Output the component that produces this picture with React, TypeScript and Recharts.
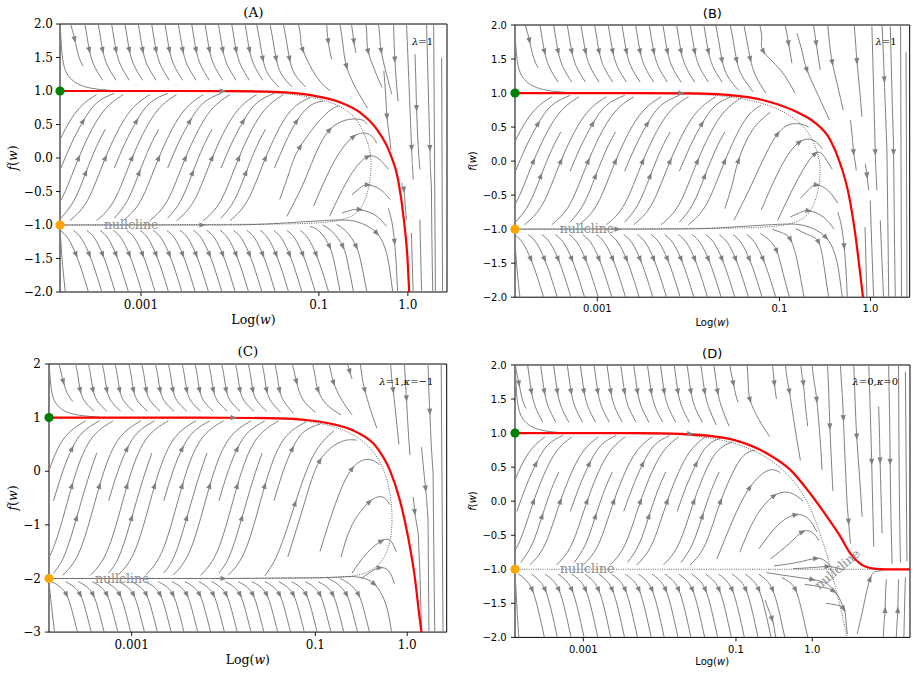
import React from 'react';
import { ComposedChart, Line, XAxis, YAxis, ReferenceArea, ReferenceDot } from 'recharts';

type Pt = [number, number];

const GRAY = '#808080';
const RED = '#ff0000';
const SERIF = '"DejaVu Serif", serif';
const SANS = '"DejaVu Sans", sans-serif';

// x is log10(w); tick labels are the w values
const xTickValues = [-3, -1, 0];
const xTickLabels = ['0.001', '0.1', '1.0'];
const yTicksHalf = [-2, -1.5, -1, -0.5, 0, 0.5, 1, 1.5, 2];
const yTicksUnit = [-3, -2, -1, 0, 1, 2];

// ---------- small-w part of the flow shared by panels A and B ----------
const topLeftAB: Pt[][] = [
  [[-3.79, 2], [-3.77, 1.9], [-3.745, 1.77], [-3.7, 1.52], [-3.65, 1.37]],
  [[-3.63, 2], [-3.605, 1.8], [-3.58, 1.61], [-3.53, 1.39], [-3.43, 1.16]],
  [[-3.48, 2], [-3.455, 1.8], [-3.43, 1.61], [-3.38, 1.39], [-3.28, 1.16]],
  [[-3.33, 2], [-3.305, 1.8], [-3.28, 1.61], [-3.23, 1.39], [-3.13, 1.16]],
  [[-3.18, 2], [-3.155, 1.8], [-3.13, 1.61], [-3.08, 1.39], [-2.98, 1.16]],
  [[-3.03, 2], [-3.005, 1.8], [-2.98, 1.61], [-2.93, 1.39], [-2.83, 1.16]],
  [[-2.88, 2], [-2.855, 1.8], [-2.83, 1.61], [-2.78, 1.39], [-2.68, 1.16]],
  [[-2.73, 2], [-2.705, 1.8], [-2.68, 1.61], [-2.63, 1.39], [-2.53, 1.16]],
  [[-2.58, 2], [-2.555, 1.8], [-2.53, 1.61], [-2.48, 1.39], [-2.38, 1.16]],
  [[-2.43, 2], [-2.405, 1.8], [-2.38, 1.61], [-2.33, 1.39], [-2.23, 1.16]],
  [[-2.28, 2], [-2.255, 1.8], [-2.23, 1.61], [-2.18, 1.39], [-2.08, 1.16]],
  [[-2.13, 2], [-2.105, 1.8], [-2.08, 1.61], [-2.03, 1.39], [-1.93, 1.16]],
  [[-1.98, 2], [-1.955, 1.8], [-1.93, 1.61], [-1.88, 1.39], [-1.78, 1.16]],
  [[-1.83, 2], [-1.805, 1.8], [-1.78, 1.61], [-1.73, 1.39], [-1.63, 1.16]],
];

const midLeftAB: Pt[][] = [
  [[-4.4, -0.935], [-4.2, -0.63], [-4.0, 0], [-3.75, 0.65], [-3.5, 0.945]],
  [[-3.9, -0.15], [-3.78, 0.22], [-3.65, 0.55], [-3.5, 0.82], [-3.3, 0.965]],
  [[-4.1, -0.935], [-3.9, -0.63], [-3.7, 0], [-3.45, 0.65], [-3.2, 0.945]],
  [[-3.9, -0.9], [-3.75, -0.63], [-3.62, -0.22], [-3.5, 0.17], [-3.4, 0.43]],
  [[-3.8, -0.935], [-3.6, -0.63], [-3.4, 0], [-3.15, 0.65], [-2.9, 0.945]],
  [[-3.3, -0.15], [-3.18, 0.22], [-3.05, 0.55], [-2.9, 0.82], [-2.7, 0.965]],
  [[-3.5, -0.935], [-3.3, -0.63], [-3.1, 0], [-2.85, 0.65], [-2.6, 0.945]],
  [[-3.3, -0.9], [-3.15, -0.63], [-3.02, -0.22], [-2.9, 0.17], [-2.8, 0.43]],
  [[-3.2, -0.935], [-3.0, -0.63], [-2.8, 0], [-2.55, 0.65], [-2.3, 0.945]],
  [[-2.7, -0.15], [-2.58, 0.22], [-2.45, 0.55], [-2.3, 0.82], [-2.1, 0.965]],
  [[-2.9, -0.935], [-2.7, -0.63], [-2.5, 0], [-2.25, 0.65], [-2.0, 0.945]],
  [[-2.7, -0.9], [-2.55, -0.63], [-2.42, -0.22], [-2.3, 0.17], [-2.2, 0.43]],
  [[-2.6, -0.935], [-2.4, -0.63], [-2.2, 0], [-1.95, 0.65], [-1.7, 0.945]],
  [[-2.1, -0.15], [-1.98, 0.22], [-1.85, 0.55], [-1.7, 0.82], [-1.5, 0.965]],
  [[-2.3, -0.935], [-2.1, -0.63], [-1.9, 0], [-1.65, 0.65], [-1.4, 0.945]],
  [[-2.1, -0.9], [-1.95, -0.63], [-1.82, -0.22], [-1.7, 0.17], [-1.6, 0.43]],
];

const botLeftAB: Pt[][] = [
  [[-3.91, -1.08], [-3.82, -1.2], [-3.73, -1.44], [-3.66, -1.7], [-3.59, -2]],
  [[-3.76, -1.08], [-3.67, -1.2], [-3.58, -1.44], [-3.51, -1.7], [-3.44, -2]],
  [[-3.61, -1.08], [-3.52, -1.2], [-3.43, -1.44], [-3.36, -1.7], [-3.29, -2]],
  [[-3.46, -1.08], [-3.37, -1.2], [-3.28, -1.44], [-3.21, -1.7], [-3.14, -2]],
  [[-3.31, -1.08], [-3.22, -1.2], [-3.13, -1.44], [-3.06, -1.7], [-2.99, -2]],
  [[-3.16, -1.08], [-3.07, -1.2], [-2.98, -1.44], [-2.91, -1.7], [-2.84, -2]],
  [[-3.01, -1.08], [-2.92, -1.2], [-2.83, -1.44], [-2.76, -1.7], [-2.69, -2]],
  [[-2.86, -1.08], [-2.77, -1.2], [-2.68, -1.44], [-2.61, -1.7], [-2.54, -2]],
  [[-2.71, -1.08], [-2.62, -1.2], [-2.53, -1.44], [-2.46, -1.7], [-2.39, -2]],
  [[-2.56, -1.08], [-2.47, -1.2], [-2.38, -1.44], [-2.31, -1.7], [-2.24, -2]],
  [[-2.41, -1.08], [-2.32, -1.2], [-2.23, -1.44], [-2.16, -1.7], [-2.09, -2]],
  [[-2.26, -1.08], [-2.17, -1.2], [-2.08, -1.44], [-2.01, -1.7], [-1.94, -2]],
  [[-2.11, -1.08], [-2.02, -1.2], [-1.93, -1.44], [-1.86, -1.7], [-1.79, -2]],
  [[-1.96, -1.08], [-1.87, -1.2], [-1.78, -1.44], [-1.71, -1.7], [-1.64, -2]],
];

const plainLeftAB: Pt[][] = [
  [[-3.905, 1.92], [-3.89, 1.6], [-3.86, 1.35], [-3.8, 1.2], [-3.7, 1.1], [-3.55, 1.04], [-3.35, 1.01]],
  [[-3.905, -1.15], [-3.89, -1.45], [-3.87, -1.75], [-3.85, -2]],
];

// ---------- panel A (lambda = 1) ----------
const redA: Pt[] = [
  [-3.91, 1], [-2.6, 1], [-2.0, 0.998], [-1.44, 0.983], [-1.06, 0.93], [-0.76, 0.83], [-0.54, 0.68],
  [-0.35, 0.43], [-0.2, 0.07], [-0.11, -0.32], [-0.045, -0.92], [-0.003, -1.52], [0.015, -2.0],
];
const nullA: Pt[] = [
  [-3.91, 1], [-2.0, 0.997], [-1.44, 0.975], [-1.06, 0.91], [-0.76, 0.79], [-0.58, 0.6], [-0.5, 0.4],
  [-0.43, 0.16], [-0.405, -0.1], [-0.43, -0.4], [-0.48, -0.65], [-0.58, -0.86], [-0.8, -0.95],
  [-1.07, -0.975], [-1.44, -0.99], [-3.91, -1],
];
const topRightA: Pt[][] = [
  [[-1.7, 2], [-1.665, 1.75], [-1.63, 1.48], [-1.57, 1.25], [-1.45, 1.06]],
  [[-1.55, 2], [-1.515, 1.75], [-1.48, 1.48], [-1.42, 1.25], [-1.3, 1.06]],
  [[-1.4, 2], [-1.365, 1.75], [-1.33, 1.48], [-1.27, 1.25], [-1.15, 1.06]],
  [[-1.23, 2], [-1.205, 1.8], [-1.18, 1.61], [-1.03, 1.22], [-0.87, 1.0]],
  [[-0.913, 2], [-0.895, 1.74], [-0.857, 1.47]],
  [[-0.764, 2], [-0.73, 1.7], [-0.689, 1.367], [-0.576, 1.02], [-0.45, 0.74]],
  [[-0.633, 2], [-0.607, 1.74], [-0.584, 1.57]],
  [[-0.47, 2], [-0.46, 1.8], [-0.446, 1.59], [-0.37, 1.3], [-0.29, 1.05]],
  [[-0.33, 2], [-0.315, 1.8], [-0.3, 1.6], [-0.24, 1.25], [-0.18, 0.95]],
  [[-0.27, 1.3], [-0.25, 0.95], [-0.235, 0.62], [-0.21, 0.35], [-0.19, 0.12]],
  [[-0.16, 2], [-0.155, 1.75], [-0.146, 1.47], [-0.13, 1.15], [-0.11, 0.85]],
  [[0.08, 1.55], [0.09, 1.15], [0.098, 0.745], [0.115, 0.2], [0.135, -0.17]],
  [[-0.015, 2], [0.01, 1.2], [0.042, 0.15], [0.052, -0.1], [0.06, -0.32]],
  [[0.21, 2], [0.23, 1.0], [0.247, 0.15], [0.255, -0.2], [0.265, -0.43]],
  [[-0.07, -0.37], [-0.06, -0.42], [-0.045, -0.47], [-0.03, -0.7], [-0.015, -0.92]],
];
const midRightA: Pt[][] = [
  [[-3.91, 1], [-2.9, 1], [-2.08, 1], [-1.8, 0.999], [-1.5, 0.99]],
  [[-3.91, -1], [-3.0, -1], [-2.31, -1], [-1.8, -0.995], [-1.44, -0.975]],
  [[-1.44, -0.975], [-0.88, -0.93], [-0.58, -0.95], [-0.35, -1.12], [-0.24, -1.42], [-0.2, -1.7], [-0.17, -2.0]],
  [[-2.0, -0.935], [-1.8, -0.63], [-1.6, 0], [-1.35, 0.65], [-1.1, 0.9]],
  [[-1.5, -0.15], [-1.38, 0.22], [-1.25, 0.55], [-1.1, 0.78], [-0.95, 0.85]],
  [[-1.44, -0.62], [-1.33, -0.2], [-1.21, 0.17], [-0.95, 0.62], [-0.78, 0.78]],
  [[-1.36, -0.87], [-1.14, -0.27], [-0.88, 0.42], [-0.56, 0.58], [-0.46, 0.5]],
  [[-1.06, -0.72], [-0.84, -0.08], [-0.61, 0.32], [-0.43, 0.35], [-0.35, 0.22]],
  [[-0.88, -0.87], [-0.65, -0.27], [-0.45, 0.02], [-0.31, -0.03], [-0.22, -0.17]],
  [[-0.63, -0.55], [-0.54, -0.45], [-0.45, -0.4], [-0.31, -0.47], [-0.2, -0.62]],
  [[-0.74, -0.82], [-0.64, -0.78], [-0.54, -0.77], [-0.37, -0.85], [-0.24, -1.02]],
];
const botRightA: Pt[][] = [
  [[-1.81, -1.08], [-1.72, -1.2], [-1.63, -1.44], [-1.56, -1.7], [-1.49, -2]],
  [[-1.66, -1.08], [-1.57, -1.2], [-1.48, -1.44], [-1.41, -1.7], [-1.34, -2]],
  [[-1.51, -1.08], [-1.42, -1.2], [-1.33, -1.44], [-1.26, -1.7], [-1.19, -2]],
  [[-1.36, -1.08], [-1.27, -1.2], [-1.18, -1.44], [-1.11, -1.7], [-1.04, -2]],
  [[-1.21, -1.08], [-1.12, -1.2], [-1.03, -1.44], [-0.96, -1.7], [-0.89, -2]],
  [[-1.1, -1.02], [-0.99, -1.1], [-0.88, -1.32], [-0.82, -1.6], [-0.76, -2]],
  [[-0.96, -1.0], [-0.85, -1.1], [-0.73, -1.32], [-0.67, -1.6], [-0.61, -2]],
  [[-0.8, -0.99], [-0.69, -1.1], [-0.58, -1.32], [-0.52, -1.6], [-0.46, -2]],
  [[-0.22, -0.75], [-0.18, -0.95], [-0.15, -1.25], [-0.13, -1.6], [-0.115, -2.0]],
];
const plainRightA: Pt[][] = [
  [[0.29, 2], [0.3, 0], [0.31, -2]],
  [[0.38, 1.5], [0.385, -0.3], [0.39, -2]],
  [[0.135, -0.92], [0.145, -1.5], [0.154, -2]],
  [[0.04, -1.12], [0.05, -1.6], [0.06, -2]],
  [[0.265, -0.43], [0.27, -1.2], [0.28, -2]],
];

// ---------- panel B (lambda = 1) ----------
const redB: Pt[] = [
  [-3.904, 1], [-2.6, 0.999], [-2.0, 0.995], [-1.54, 0.97], [-1.175, 0.895], [-0.808, 0.72], [-0.626, 0.58],
  [-0.442, 0.31], [-0.332, -0.04], [-0.241, -0.48], [-0.168, -1.07], [-0.113, -1.66], [-0.083, -2.0],
];
const nullB: Pt[] = [
  [-3.904, 1], [-2.0, 0.993], [-1.58, 0.96], [-1.2, 0.87], [-0.9, 0.7], [-0.72, 0.5], [-0.63, 0.3],
  [-0.57, 0.08], [-0.545, -0.12], [-0.57, -0.42], [-0.62, -0.65], [-0.72, -0.86], [-0.94, -0.95],
  [-1.2, -0.975], [-1.58, -0.99], [-3.904, -1],
];
const topRightB: Pt[][] = [
  [[-1.7, 2], [-1.665, 1.75], [-1.63, 1.48], [-1.57, 1.25], [-1.45, 1.04]],
  [[-1.54, 2], [-1.505, 1.75], [-1.47, 1.48], [-1.41, 1.25], [-1.29, 1.02]],
  [[-1.39, 2], [-1.355, 1.75], [-1.32, 1.5], [-1.26, 1.25], [-1.15, 1.0]],
  [[-1.215, 2], [-1.195, 1.8], [-1.175, 1.61], [-0.99, 1.34], [-0.83, 1.0]],
  [[-0.937, 2], [-0.9, 1.73], [-0.863, 1.44]],
  [[-0.808, 1.88], [-0.75, 1.6], [-0.698, 1.34], [-0.57, 0.95], [-0.45, 0.6]],
  [[-0.626, 2], [-0.596, 1.73], [-0.552, 1.34]],
  [[-0.47, 2], [-0.45, 1.73], [-0.42, 1.45], [-0.36, 1.1], [-0.3, 0.75]],
  [[-0.179, 2], [-0.165, 1.75], [-0.149, 1.47], [-0.12, 1.05], [-0.094, 0.65]],
  [[-0.22, 0.6], [-0.2, 0.35], [-0.186, 0.13], [-0.17, 0.0], [-0.157, -0.14]],
  [[0.126, 2], [0.14, 1.6], [0.151, 1.2], [0.165, 0.7], [0.18, 0.16]],
  [[0.015, 1.98], [0.035, 1.0], [0.052, 0.13], [0.06, -0.15], [0.07, -0.43]],
  [[0.217, 1.98], [0.24, 0.8], [0.253, 0.13], [0.262, -1.0], [0.272, -2.0]],
  [[-0.058, -0.04], [-0.048, -0.12], [-0.039, -0.21], [-0.03, -0.32], [-0.02, -0.43]],
];
const midRightB: Pt[][] = [
  [[-3.904, 1], [-2.9, 1], [-2.08, 1], [-1.8, 0.995], [-1.6, 0.975]],
  [[-3.904, -1], [-3.3, -1], [-2.78, -1], [-2.0, -0.997], [-1.58, -0.975]],
  [[-1.58, -0.975], [-1.02, -0.93], [-0.72, -0.95], [-0.49, -1.12], [-0.38, -1.42], [-0.34, -1.7], [-0.31, -2.0]],
  [[-2.0, -0.935], [-1.8, -0.63], [-1.6, 0], [-1.38, 0.6], [-1.2, 0.82]],
  [[-1.6, -0.7], [-1.52, -0.35], [-1.45, 0.01], [-1.3, 0.45], [-1.1, 0.72]],
  [[-1.5, -0.87], [-1.28, -0.27], [-1.02, 0.4], [-0.8, 0.55], [-0.68, 0.5]],
  [[-1.2, -0.72], [-0.98, -0.075], [-0.78, 0.28], [-0.62, 0.3], [-0.53, 0.18]],
  [[-1.02, -0.87], [-0.8, -0.27], [-0.607, 0.11], [-0.5, 0.05], [-0.42, -0.12]],
  [[-0.77, -0.55], [-0.68, -0.42], [-0.59, -0.35], [-0.46, -0.44], [-0.36, -0.62]],
  [[-0.88, -0.82], [-0.78, -0.76], [-0.68, -0.73], [-0.52, -0.82], [-0.4, -1.0]],
];
const botRightB: Pt[][] = [
  [[-1.81, -1.08], [-1.72, -1.2], [-1.63, -1.44], [-1.56, -1.7], [-1.49, -2]],
  [[-1.66, -1.08], [-1.57, -1.2], [-1.48, -1.44], [-1.41, -1.7], [-1.34, -2]],
  [[-1.51, -1.08], [-1.42, -1.2], [-1.33, -1.44], [-1.26, -1.7], [-1.19, -2]],
  [[-1.36, -1.08], [-1.27, -1.2], [-1.18, -1.44], [-1.11, -1.7], [-1.04, -2]],
  [[-1.21, -1.06], [-1.12, -1.15], [-1.03, -1.32], [-0.96, -1.65], [-0.89, -2]],
  [[-1.08, -1.0], [-0.98, -1.05], [-0.88, -1.15], [-0.8, -1.5], [-0.73, -2]],
  [[-0.82, -0.99], [-0.69, -1.08], [-0.57, -1.19], [-0.51, -1.55], [-0.46, -2]],
  [[-0.36, -0.75], [-0.32, -0.95], [-0.29, -1.25], [-0.27, -1.6], [-0.255, -2.0]],
];
const plainRightB: Pt[][] = [
  [[0.33, 2], [0.335, 0], [0.34, -2]],
  [[0.39, 1.6], [0.395, 0], [0.4, -2]],
  [[-0.003, -0.58], [0.015, -1.3], [0.034, -2]],
  [[0.107, -0.87], [0.125, -1.45], [0.143, -2]],
  [[-0.06, -0.97], [-0.05, -1.5], [-0.04, -2]],
  [[0.18, 0.16], [0.19, -0.9], [0.2, -2.0]],
];

// ---------- panel C (lambda = 1, kappa = -1) ----------
const redC: Pt[] = [
  [-3.9, 1], [-2.5, 1], [-2.0, 0.998], [-1.386, 0.985], [-0.842, 0.89], [-0.552, 0.73], [-0.334, 0.45],
  [-0.189, 0.02], [-0.08, -0.54], [0.01, -1.23], [0.083, -1.98], [0.13, -2.66], [0.155, -3.0],
];
const nullC: Pt[] = [
  [-3.9, 1], [-2.0, 0.997], [-1.4, 0.98], [-1.2, 0.96], [-0.842, 0.87], [-0.552, 0.68], [-0.334, 0.33],
  [-0.225, -0.07], [-0.17, -0.55], [-0.16, -1.0], [-0.189, -1.41], [-0.298, -1.78], [-0.516, -1.96],
  [-0.842, -1.99], [-1.4, -2.0], [-3.9, -2],
];
const topC: Pt[][] = [
  [[-3.79, 2], [-3.77, 1.85], [-3.744, 1.67], [-3.7, 1.45], [-3.64, 1.3]],
  [[-3.61, 2], [-3.585, 1.78], [-3.56, 1.51], [-3.51, 1.3], [-3.41, 1.12]],
  [[-3.47, 2], [-3.445, 1.78], [-3.42, 1.51], [-3.37, 1.3], [-3.27, 1.12]],
  [[-3.32, 2], [-3.295, 1.78], [-3.27, 1.51], [-3.22, 1.3], [-3.12, 1.12]],
  [[-3.18, 2], [-3.155, 1.78], [-3.13, 1.51], [-3.08, 1.3], [-2.98, 1.12]],
  [[-3.03, 2], [-3.005, 1.78], [-2.98, 1.51], [-2.93, 1.3], [-2.83, 1.12]],
  [[-2.89, 2], [-2.865, 1.78], [-2.84, 1.51], [-2.79, 1.3], [-2.69, 1.12]],
  [[-2.74, 2], [-2.715, 1.78], [-2.69, 1.51], [-2.64, 1.3], [-2.54, 1.12]],
  [[-2.6, 2], [-2.575, 1.78], [-2.55, 1.51], [-2.5, 1.3], [-2.4, 1.12]],
  [[-2.45, 2], [-2.425, 1.78], [-2.4, 1.51], [-2.35, 1.3], [-2.25, 1.12]],
  [[-2.31, 2], [-2.285, 1.78], [-2.26, 1.51], [-2.21, 1.3], [-2.11, 1.12]],
  [[-2.16, 2], [-2.135, 1.78], [-2.11, 1.51], [-2.06, 1.3], [-1.96, 1.12]],
  [[-2.02, 2], [-1.995, 1.78], [-1.97, 1.51], [-1.92, 1.3], [-1.82, 1.12]],
  [[-1.87, 2], [-1.845, 1.78], [-1.82, 1.51], [-1.77, 1.3], [-1.67, 1.12]],
  [[-1.73, 2], [-1.705, 1.78], [-1.68, 1.51], [-1.63, 1.3], [-1.53, 1.12]],
  [[-1.58, 2], [-1.555, 1.78], [-1.53, 1.51], [-1.48, 1.3], [-1.38, 1.1]],
  [[-1.44, 2], [-1.415, 1.78], [-1.39, 1.51], [-1.34, 1.3], [-1.24, 1.08]],
  [[-1.25, 2], [-1.23, 1.85], [-1.205, 1.67], [-1.14, 1.35], [-1.0, 1.1]],
  [[-1.03, 2], [-1.0, 1.75], [-0.97, 1.51], [-0.88, 1.25], [-0.72, 1.05]],
  [[-0.85, 2], [-0.83, 1.85], [-0.8, 1.65], [-0.72, 1.35], [-0.6, 1.05]],
  [[-0.65, 2], [-0.625, 1.86], [-0.6, 1.72]],
  [[-0.51, 2], [-0.49, 1.75], [-0.461, 1.51], [-0.4, 1.15], [-0.33, 0.8]],
  [[-0.18, 2], [-0.17, 1.75], [-0.153, 1.51], [-0.12, 1.0], [-0.09, 0.5]],
  [[-0.03, 2], [-0.02, 1.7], [-0.008, 1.36], [0.01, 0.8], [0.03, 0.3]],
  [[0.227, 2], [0.236, 1.5], [0.246, 1.11], [0.262, 0.5], [0.282, -0.04]],
  [[0.156, 0.45], [0.175, 0.1], [0.2, -0.32], [0.215, -0.6], [0.227, -0.92]],
  [[0.065, -0.48], [0.075, -0.62], [0.082, -0.76], [0.1, -0.95], [0.12, -1.16]],
];
const midC: Pt[][] = [
  [[-3.9, 1], [-2.9, 1], [-1.89, 1], [-1.6, 0.995], [-1.4, 0.985]],
  [[-3.9, -2], [-3.0, -2], [-2.0, -2], [-1.6, -1.995], [-1.3, -1.99]],
  [[-1.3, -1.99], [-0.85, -1.98], [-0.55, -1.97], [-0.36, -2.1], [-0.25, -2.4], [-0.2, -2.7], [-0.17, -3.0]],
  [[-4.35, -1.94], [-4.15, -1.42], [-3.95, -0.27], [-3.75, 0.58], [-3.5, 0.94]],
  [[-3.85, -0.55], [-3.75, 0], [-3.65, 0.42], [-3.53, 0.73], [-3.35, 0.94]],
  [[-4.05, -1.94], [-3.85, -1.42], [-3.65, -0.27], [-3.45, 0.58], [-3.2, 0.94]],
  [[-3.85, -1.9], [-3.73, -1.56], [-3.6, -0.87], [-3.48, -0.17], [-3.38, 0.34]],
  [[-3.75, -1.94], [-3.55, -1.42], [-3.35, -0.27], [-3.15, 0.58], [-2.9, 0.94]],
  [[-3.25, -0.55], [-3.15, 0], [-3.05, 0.42], [-2.93, 0.73], [-2.75, 0.94]],
  [[-3.45, -1.94], [-3.25, -1.42], [-3.05, -0.27], [-2.85, 0.58], [-2.6, 0.94]],
  [[-3.25, -1.9], [-3.13, -1.56], [-3.0, -0.87], [-2.88, -0.17], [-2.78, 0.34]],
  [[-3.15, -1.94], [-2.95, -1.42], [-2.75, -0.27], [-2.55, 0.58], [-2.3, 0.94]],
  [[-2.65, -0.55], [-2.55, 0], [-2.45, 0.42], [-2.33, 0.73], [-2.15, 0.94]],
  [[-2.85, -1.94], [-2.65, -1.42], [-2.45, -0.27], [-2.25, 0.58], [-2.0, 0.94]],
  [[-2.65, -1.9], [-2.53, -1.56], [-2.4, -0.87], [-2.28, -0.17], [-2.18, 0.34]],
  [[-2.55, -1.94], [-2.35, -1.42], [-2.15, -0.27], [-1.95, 0.58], [-1.7, 0.94]],
  [[-2.05, -0.55], [-1.95, 0], [-1.85, 0.42], [-1.73, 0.73], [-1.55, 0.94]],
  [[-2.25, -1.94], [-2.05, -1.42], [-1.85, -0.27], [-1.65, 0.58], [-1.4, 0.94]],
  [[-2.05, -1.9], [-1.93, -1.56], [-1.8, -0.87], [-1.68, -0.17], [-1.58, 0.34]],
  [[-1.95, -1.94], [-1.75, -1.42], [-1.55, -0.27], [-1.35, 0.58], [-1.1, 0.92]],
  [[-1.45, -0.55], [-1.35, 0], [-1.25, 0.42], [-1.13, 0.73], [-0.95, 0.88]],
  [[-1.55, -1.95], [-1.4, -1.5], [-1.22, -0.6], [-1.02, 0.3], [-0.8, 0.75]],
  [[-1.3, -1.6], [-1.12, -0.6], [-0.95, 0.2], [-0.72, 0.55], [-0.55, 0.58]],
  [[-0.95, -1.5], [-0.78, -0.6], [-0.6, 0.05], [-0.42, 0.22], [-0.3, 0.12]],
  [[-0.72, -1.6], [-0.6, -1.0], [-0.41, -0.57], [-0.27, -0.48], [-0.19, -0.62]],
  [[-0.6, -1.9], [-0.45, -1.55], [-0.28, -1.3], [-0.18, -1.3], [-0.12, -1.5]],
  [[-0.5, -2.0], [-0.4, -1.88], [-0.3, -1.8], [-0.2, -1.86], [-0.14, -2.1]],
];
const botC: Pt[][] = [
  [[-3.87, -2.06], [-3.79, -2.14], [-3.71, -2.3], [-3.65, -2.6], [-3.59, -3]],
  [[-3.72, -2.06], [-3.64, -2.14], [-3.56, -2.3], [-3.5, -2.6], [-3.44, -3]],
  [[-3.58, -2.06], [-3.5, -2.14], [-3.42, -2.3], [-3.36, -2.6], [-3.3, -3]],
  [[-3.43, -2.06], [-3.35, -2.14], [-3.27, -2.3], [-3.21, -2.6], [-3.15, -3]],
  [[-3.29, -2.06], [-3.21, -2.14], [-3.13, -2.3], [-3.07, -2.6], [-3.01, -3]],
  [[-3.14, -2.06], [-3.06, -2.14], [-2.98, -2.3], [-2.92, -2.6], [-2.86, -3]],
  [[-3.0, -2.06], [-2.92, -2.14], [-2.84, -2.3], [-2.78, -2.6], [-2.72, -3]],
  [[-2.85, -2.06], [-2.77, -2.14], [-2.69, -2.3], [-2.63, -2.6], [-2.57, -3]],
  [[-2.71, -2.06], [-2.63, -2.14], [-2.55, -2.3], [-2.49, -2.6], [-2.43, -3]],
  [[-2.56, -2.06], [-2.48, -2.14], [-2.4, -2.3], [-2.34, -2.6], [-2.28, -3]],
  [[-2.42, -2.06], [-2.34, -2.14], [-2.26, -2.3], [-2.2, -2.6], [-2.14, -3]],
  [[-2.27, -2.06], [-2.19, -2.14], [-2.11, -2.3], [-2.05, -2.6], [-1.99, -3]],
  [[-2.13, -2.06], [-2.05, -2.14], [-1.97, -2.3], [-1.91, -2.6], [-1.85, -3]],
  [[-1.98, -2.06], [-1.9, -2.14], [-1.82, -2.3], [-1.76, -2.6], [-1.7, -3]],
  [[-1.84, -2.06], [-1.76, -2.14], [-1.68, -2.3], [-1.62, -2.6], [-1.56, -3]],
  [[-1.69, -2.06], [-1.61, -2.14], [-1.53, -2.3], [-1.47, -2.6], [-1.41, -3]],
  [[-1.55, -2.06], [-1.47, -2.14], [-1.39, -2.3], [-1.33, -2.6], [-1.27, -3]],
  [[-1.4, -2.06], [-1.32, -2.14], [-1.24, -2.3], [-1.18, -2.6], [-1.12, -3]],
  [[-1.26, -2.06], [-1.18, -2.14], [-1.1, -2.3], [-1.04, -2.6], [-0.98, -3]],
  [[-1.11, -2.06], [-1.03, -2.14], [-0.95, -2.3], [-0.89, -2.6], [-0.83, -3]],
  [[-0.97, -2.06], [-0.89, -2.14], [-0.81, -2.3], [-0.75, -2.6], [-0.69, -3]],
  [[-0.86, -2.0], [-0.76, -2.1], [-0.66, -2.3], [-0.6, -2.6], [-0.54, -3.0]],
  [[-0.73, -2.0], [-0.63, -2.1], [-0.53, -2.3], [-0.47, -2.6], [-0.41, -3.0]],
];
const plainC: Pt[][] = [
  [[-3.895, 1.92], [-3.88, 1.6], [-3.85, 1.35], [-3.79, 1.2], [-3.7, 1.1], [-3.55, 1.04], [-3.35, 1.01]],
  [[-3.895, -2.15], [-3.88, -2.4], [-3.86, -2.7], [-3.84, -3.0]],
  [[0.37, 2], [0.38, -0.5], [0.39, -3]],
  [[0.12, -1.16], [0.14, -2.0], [0.155, -2.97]],
  [[0.227, -0.92], [0.232, -2.0], [0.237, -3.0]],
  [[0.282, -0.04], [0.29, -1.5], [0.3, -3.0]],
];

// ---------- panel D (lambda = 0, kappa = 0) ----------
const redD: Pt[] = [
  [-3.895, 1], [-2.5, 1], [-2.0, 0.997], [-1.466, 0.97], [-1.03, 0.9], [-0.592, 0.7], [-0.287, 0.46],
  [-0.025, 0.11], [0.194, -0.23], [0.368, -0.52], [0.5, -0.77], [0.631, -0.92], [0.805, -0.99], [0.98, -1.0],
  [1.28, -1.0],
];
const nullD: Pt[] = [
  [-3.895, 1], [-2.0, 0.995], [-1.466, 0.96], [-0.942, 0.85], [-0.505, 0.6], [-0.2, 0.26], [-0.025, -0.08],
  [0.106, -0.48], [0.215, -0.87], [0.28, -1.16], [0.368, -1.55], [0.456, -2.0],
];
const nullFlatD: Pt[] = [[-3.895, -1], [-1.5, -1], [0.9, -1]];
const topD: Pt[][] = [
  [[-3.89, 2], [-3.87, 1.87], [-3.843, 1.73], [-3.8, 1.5], [-3.75, 1.36]],
  [[-3.73, 2], [-3.705, 1.8], [-3.68, 1.61], [-3.63, 1.39], [-3.53, 1.16]],
  [[-3.56, 2], [-3.535, 1.8], [-3.51, 1.61], [-3.46, 1.39], [-3.36, 1.16]],
  [[-3.39, 2], [-3.365, 1.8], [-3.34, 1.61], [-3.29, 1.39], [-3.19, 1.16]],
  [[-3.21, 2], [-3.185, 1.8], [-3.16, 1.61], [-3.11, 1.39], [-3.01, 1.16]],
  [[-3.04, 2], [-3.015, 1.8], [-2.99, 1.61], [-2.94, 1.39], [-2.84, 1.16]],
  [[-2.86, 2], [-2.835, 1.8], [-2.81, 1.61], [-2.76, 1.39], [-2.66, 1.16]],
  [[-2.69, 2], [-2.665, 1.8], [-2.64, 1.61], [-2.59, 1.39], [-2.49, 1.16]],
  [[-2.51, 2], [-2.485, 1.8], [-2.46, 1.61], [-2.41, 1.39], [-2.31, 1.16]],
  [[-2.34, 2], [-2.315, 1.8], [-2.29, 1.61], [-2.24, 1.39], [-2.14, 1.16]],
  [[-2.16, 2], [-2.135, 1.8], [-2.11, 1.61], [-2.06, 1.39], [-1.96, 1.16]],
  [[-1.99, 2], [-1.965, 1.8], [-1.94, 1.61], [-1.89, 1.39], [-1.79, 1.16]],
  [[-1.81, 2], [-1.785, 1.8], [-1.76, 1.61], [-1.71, 1.39], [-1.61, 1.16]],
  [[-1.64, 2], [-1.615, 1.8], [-1.59, 1.61], [-1.54, 1.39], [-1.44, 1.16]],
  [[-1.46, 2], [-1.435, 1.8], [-1.41, 1.61], [-1.36, 1.39], [-1.26, 1.12]],
  [[-1.29, 2], [-1.265, 1.8], [-1.24, 1.61], [-1.19, 1.39], [-1.09, 1.1]],
  [[-1.08, 2], [-1.06, 1.87], [-1.034, 1.73], [-1.0, 1.55], [-0.97, 1.45]],
  [[-0.854, 2], [-0.84, 1.75], [-0.816, 1.49], [-0.7, 1.2], [-0.56, 0.95]],
  [[-0.52, 2], [-0.497, 1.73], [-0.47, 1.5]],
  [[-0.352, 2], [-0.33, 1.8], [-0.3, 1.61], [-0.23, 1.1], [-0.156, 0.6]],
  [[-0.15, 2], [-0.135, 1.85], [-0.117, 1.73], [-0.09, 1.4], [-0.06, 1.1]],
  [[-0.003, 2], [0.025, 1.75], [0.058, 1.49], [0.1, 0.95], [0.128, 0.46]],
  [[0.2, 2], [0.215, 1.6], [0.23, 1.1], [0.25, 0.6], [0.27, 0.15]],
  [[0.368, 2], [0.39, 1.6], [0.407, 1.22], [0.43, 0.6], [0.456, -0.03]],
  [[0.456, -0.03], [0.475, -0.3], [0.5, -0.62]],
  [[0.543, 2], [0.56, 1.5], [0.582, 0.95], [0.62, 0.35], [0.653, -0.23]],
  [[0.74, 2], [0.76, 1.3], [0.778, 0.58], [0.79, 0.0], [0.805, -0.67]],
  [[0.87, 1.39], [0.88, 1.0], [0.888, 0.6], [0.9, 0.1], [0.915, -0.47]],
  [[1.0, 2], [1.012, 1.3], [1.02, 0.58], [1.03, -0.2], [1.046, -0.92]],
];
const midD: Pt[][] = [
  [[-3.895, 1], [-2.6, 1], [-1.6, 0.99], [-1.3, 0.96], [-1.0, 0.9]],
  [[-4.4, -0.935], [-4.2, -0.63], [-4.0, 0], [-3.75, 0.65], [-3.5, 0.945]],
  [[-3.87, -0.15], [-3.75, 0.22], [-3.62, 0.55], [-3.47, 0.82], [-3.27, 0.965]],
  [[-4.05, -0.935], [-3.85, -0.63], [-3.65, 0], [-3.4, 0.65], [-3.15, 0.945]],
  [[-3.82, -0.9], [-3.67, -0.63], [-3.54, -0.22], [-3.42, 0.17], [-3.32, 0.43]],
  [[-3.7, -0.935], [-3.5, -0.63], [-3.3, 0], [-3.05, 0.65], [-2.8, 0.945]],
  [[-3.17, -0.15], [-3.05, 0.22], [-2.92, 0.55], [-2.77, 0.82], [-2.57, 0.965]],
  [[-3.35, -0.935], [-3.15, -0.63], [-2.95, 0], [-2.7, 0.65], [-2.45, 0.945]],
  [[-3.12, -0.9], [-2.97, -0.63], [-2.84, -0.22], [-2.72, 0.17], [-2.62, 0.43]],
  [[-3.0, -0.935], [-2.8, -0.63], [-2.6, 0], [-2.35, 0.65], [-2.1, 0.945]],
  [[-2.47, -0.15], [-2.35, 0.22], [-2.22, 0.55], [-2.07, 0.82], [-1.87, 0.965]],
  [[-2.65, -0.935], [-2.45, -0.63], [-2.25, 0], [-2.0, 0.65], [-1.75, 0.945]],
  [[-2.42, -0.9], [-2.27, -0.63], [-2.14, -0.22], [-2.02, 0.17], [-1.92, 0.43]],
  [[-2.3, -0.935], [-2.1, -0.63], [-1.9, 0], [-1.65, 0.65], [-1.4, 0.945]],
  [[-1.77, -0.15], [-1.65, 0.22], [-1.52, 0.55], [-1.37, 0.82], [-1.17, 0.94]],
  [[-1.95, -0.935], [-1.75, -0.63], [-1.55, 0], [-1.3, 0.65], [-1.05, 0.87]],
  [[-1.72, -0.9], [-1.57, -0.63], [-1.44, -0.22], [-1.32, 0.17], [-1.22, 0.43]],
  [[-1.6, -0.935], [-1.4, -0.63], [-1.2, 0], [-0.95, 0.6], [-0.75, 0.75]],
  [[-1.25, -0.85], [-1.05, -0.3], [-0.82, 0.2], [-0.58, 0.45], [-0.42, 0.42]],
  [[-0.95, -0.75], [-0.75, -0.25], [-0.5, 0.08], [-0.28, 0.12], [-0.12, 0.0]],
  [[-0.7, -0.7], [-0.45, -0.35], [-0.22, -0.2], [-0.05, -0.26], [0.06, -0.45]],
  [[-0.55, -0.85], [-0.3, -0.62], [-0.13, -0.45], [0.0, -0.46], [0.09, -0.58]],
  [[-0.5, -0.95], [-0.2, -0.9], [0.05, -0.84], [0.17, -0.88], [0.26, -0.98]],
  [[-0.25, -0.99], [0.0, -0.975], [0.2, -0.96], [0.32, -0.98], [0.42, -1.01]],
  [[-0.6, -1.05], [-0.3, -1.1], [0.0, -1.15], [0.2, -1.22], [0.33, -1.38]],
  [[-0.1, -1.22], [0.12, -1.26], [0.28, -1.32], [0.37, -1.46], [0.42, -1.62]],
  [[0.18, -1.5], [0.3, -1.52], [0.412, -1.58], [0.44, -1.75], [0.46, -1.95]],
  [[0.587, -1.95], [0.66, -1.6], [0.757, -1.14], [0.85, -1.03], [0.97, -1.0]],
  [[0.93, -2.0], [0.94, -1.8], [0.954, -1.6], [0.96, -1.35], [0.97, -1.15]],
  [[1.1, -2.0], [1.11, -1.8], [1.12, -1.6], [1.125, -1.35], [1.13, -1.15]],
];
const botD: Pt[][] = [
  [[-3.85, -1.07], [-3.76, -1.15], [-3.67, -1.3], [-3.59, -1.6], [-3.51, -2]],
  [[-3.68, -1.07], [-3.59, -1.15], [-3.5, -1.3], [-3.42, -1.6], [-3.34, -2]],
  [[-3.5, -1.07], [-3.41, -1.15], [-3.32, -1.3], [-3.24, -1.6], [-3.16, -2]],
  [[-3.33, -1.07], [-3.24, -1.15], [-3.15, -1.3], [-3.07, -1.6], [-2.99, -2]],
  [[-3.15, -1.07], [-3.06, -1.15], [-2.97, -1.3], [-2.89, -1.6], [-2.81, -2]],
  [[-2.98, -1.07], [-2.89, -1.15], [-2.8, -1.3], [-2.72, -1.6], [-2.64, -2]],
  [[-2.8, -1.07], [-2.71, -1.15], [-2.62, -1.3], [-2.54, -1.6], [-2.46, -2]],
  [[-2.63, -1.07], [-2.54, -1.15], [-2.45, -1.3], [-2.37, -1.6], [-2.29, -2]],
  [[-2.45, -1.07], [-2.36, -1.15], [-2.27, -1.3], [-2.19, -1.6], [-2.11, -2]],
  [[-2.28, -1.07], [-2.19, -1.15], [-2.1, -1.3], [-2.02, -1.6], [-1.94, -2]],
  [[-2.1, -1.07], [-2.01, -1.15], [-1.92, -1.3], [-1.84, -1.6], [-1.76, -2]],
  [[-1.93, -1.07], [-1.84, -1.15], [-1.75, -1.3], [-1.67, -1.6], [-1.59, -2]],
  [[-1.75, -1.07], [-1.66, -1.15], [-1.57, -1.3], [-1.49, -1.6], [-1.41, -2]],
  [[-1.58, -1.07], [-1.49, -1.15], [-1.4, -1.3], [-1.32, -1.6], [-1.24, -2]],
  [[-1.4, -1.07], [-1.31, -1.15], [-1.22, -1.3], [-1.14, -1.6], [-1.06, -2]],
  [[-1.23, -1.07], [-1.14, -1.15], [-1.05, -1.3], [-0.97, -1.6], [-0.89, -2]],
  [[-1.05, -1.07], [-0.96, -1.15], [-0.87, -1.3], [-0.79, -1.6], [-0.71, -2]],
  [[-0.88, -1.07], [-0.79, -1.15], [-0.7, -1.3], [-0.62, -1.6], [-0.54, -2]],
  [[-0.7, -1.07], [-0.61, -1.15], [-0.52, -1.3], [-0.44, -1.6], [-0.36, -2]],
  [[-0.62, -1.45], [-0.57, -1.6], [-0.527, -1.73], [-0.5, -1.85], [-0.48, -2.0]],
  [[-0.4, -1.12], [-0.31, -1.18], [-0.22, -1.3], [-0.14, -1.6], [-0.06, -2]],
];
const plainD: Pt[][] = [
  [[-3.89, 1.92], [-3.875, 1.6], [-3.845, 1.35], [-3.785, 1.2], [-3.685, 1.1], [-3.535, 1.04], [-3.335, 1.01]],
  [[-3.89, -1.15], [-3.875, -1.45], [-3.86, -1.75], [-3.845, -2]],
  [[1.13, 2], [1.14, 0.2], [1.155, -0.9]],
  [[1.22, 1.9], [1.23, 0.5], [1.24, -0.88]],
  [[1.2, -2], [1.21, -1.5], [1.22, -1.12]],
];

// ---------- rendering ----------
const fmtHalf = (v: number) => (v < 0 ? '\u2212' : '') + Math.abs(v).toFixed(1);
const fmtUnit = (v: number) => (v < 0 ? '\u2212' : '') + Math.abs(v).toFixed(0);
const fmtX = (v: number) => {
  const i = xTickValues.indexOf(v);
  return i >= 0 ? xTickLabels[i] : '';
};
const rows = (s: Pt[]) => s.map(([x, y]) => ({ x, y }));

// arrowhead drawn at the middle point of a streamline, pointing along it
const arrowDot = (pts: Pt[], kx: number, ky: number) => {
  const mid = Math.floor(pts.length / 2);
  return (p: any) => {
    if (p.index !== mid || p.cx == null || p.cy == null) return <g key={`e${p.index}`} />;
    const a = pts[Math.max(0, mid - 1)];
    const b = pts[Math.min(pts.length - 1, mid + 1)];
    let dx = (b[0] - a[0]) * kx;
    let dy = -(b[1] - a[1]) * ky;
    const len = Math.hypot(dx, dy) || 1;
    dx /= len;
    dy /= len;
    const L = 3.6, Bk = 3.0, W = 2.6;
    const tip = [p.cx + dx * L, p.cy + dy * L];
    const bl = [p.cx - dx * Bk - dy * W, p.cy - dy * Bk + dx * W];
    const br = [p.cx - dx * Bk + dy * W, p.cy - dy * Bk - dx * W];
    return <polygon key={`a${p.index}`} points={`${tip} ${bl} ${br}`} fill={GRAY} stroke="none" />;
  };
};

type Spec = {
  box: { l: number; t: number; r: number; b: number };
  xDomain: [number, number];
  yDomain: [number, number];
  yTicks: number[];
  yFmt: (v: number) => string;
  serif: boolean;
  tickFont: number;
  labelFont: number;
  titleFont: number;
  xTickMargin: number;
  yTickMargin: number;
  title: string;
  titleY: number;
  xlabelY: number;
  ylabelX: number;
  legend: React.ReactNode;
  legendRight: number;
  legendY: number;
  red: Pt[];
  nulls: Pt[][];
  arrows: Pt[][];
  plain: Pt[][];
  nullText: { x: number; y: number; angle?: number; anchor?: string }[];
  fixedY: number;
  nullY: number;
};

function Panel({ s }: { s: Spec }) {
  const { box, xDomain, yDomain } = s;
  const pw = box.r - box.l;
  const ph = box.b - box.t;
  const kx = pw / (xDomain[1] - xDomain[0]);
  const ky = ph / (yDomain[1] - yDomain[0]);
  const YW = 60, XH = 34, pad = 4, padTop = 14;
  const W = pw + YW + 2 * pad;
  const H = ph + XH + pad + padTop;
  const font = s.serif ? SERIF : SANS;
  const tick = { fontSize: s.tickFont, fontFamily: font, fill: '#000' };
  const cx = (box.l + box.r) / 2;
  const cy = (box.t + box.b) / 2;
  const txt: React.CSSProperties = { position: 'absolute', whiteSpace: 'nowrap', lineHeight: 1, fontFamily: font, color: '#000' };
  return (
    <>
      <div style={{ position: 'absolute', left: box.l - YW - pad, top: box.t - padTop, width: W, height: H }}>
        <ComposedChart width={W} height={H} margin={{ top: padTop, right: pad, bottom: pad, left: pad }}>
          <XAxis type="number" dataKey="x" domain={xDomain} allowDataOverflow ticks={xTickValues} tickFormatter={fmtX}
            interval={0} height={XH} axisLine={false} tickLine={{ stroke: '#000', strokeWidth: 0.9 }} tickSize={4}
            tickMargin={s.xTickMargin} tick={tick} />
          <YAxis type="number" dataKey="y" domain={yDomain} allowDataOverflow ticks={s.yTicks} tickFormatter={s.yFmt}
            interval={0} width={YW} axisLine={false} tickLine={{ stroke: '#000', strokeWidth: 0.9 }} tickSize={4}
            tickMargin={s.yTickMargin} tick={tick} />
          {s.plain.map((p, i) => (
            <Line key={`p${i}`} data={rows(p)} dataKey="y" type="natural" stroke={GRAY} strokeWidth={1}
              dot={false} activeDot={false} isAnimationActive={false} />
          ))}
          {s.arrows.map((p, i) => (
            <Line key={`s${i}`} data={rows(p)} dataKey="y" type="natural" stroke={GRAY} strokeWidth={1}
              dot={arrowDot(p, kx, ky)} activeDot={false} isAnimationActive={false} />
          ))}
          {s.nulls.map((p, i) => (
            <Line key={`n${i}`} data={rows(p)} dataKey="y" type="basis" stroke="#555" strokeWidth={0.9}
              strokeDasharray="1 1.3" dot={false} activeDot={false} isAnimationActive={false} />
          ))}
          <Line data={rows(s.red)} dataKey="y" type="monotone" stroke={RED} strokeWidth={2.2}
            dot={false} activeDot={false} isAnimationActive={false} />
          {s.nullText.map((t, i) => (
            <ReferenceDot key={`t${i}`} x={t.x} y={t.y} r={0} ifOverflow="visible"
              shape={(p: any) => (
                <text x={p.cx} y={p.cy} dy={4.2} textAnchor={(t.anchor as any) || 'start'} fontFamily={SERIF}
                  fontSize={12.5} fill="#8c8c8c"
                  transform={t.angle ? `rotate(${t.angle} ${p.cx} ${p.cy})` : undefined}>
                  nullcline
                </text>
              )} />
          ))}
          <ReferenceDot x={xDomain[0]} y={s.fixedY} r={4.6} fill="#008000" stroke="none" ifOverflow="visible" />
          <ReferenceDot x={xDomain[0]} y={s.nullY} r={4.6} fill="#ffa500" stroke="none" ifOverflow="visible" />
          <ReferenceArea x1={xDomain[0]} x2={xDomain[1]} y1={yDomain[0]} y2={yDomain[1]} fill="none"
            fillOpacity={0} stroke="#000" strokeWidth={1} ifOverflow="visible" />
        </ComposedChart>
      </div>
      <div style={{ ...txt, left: cx, top: s.titleY, transform: 'translate(-50%,-50%)', fontSize: s.titleFont }}>
        {s.title}
      </div>
      <div style={{ ...txt, left: cx, top: s.xlabelY, transform: 'translate(-50%,-50%)', fontSize: s.labelFont }}>
        Log(<i>w</i>)
      </div>
      <div style={{ ...txt, left: s.ylabelX, top: cy, transform: 'translate(-50%,-50%) rotate(-90deg)', fontSize: s.labelFont }}>
        <i>f</i>(<i>w</i>)
      </div>
      <div style={{ ...txt, left: s.legendRight, top: s.legendY, transform: 'translate(-100%,-50%)', fontSize: 10, fontFamily: SERIF }}>
        {s.legend}
      </div>
    </>
  );
}

const panels: Spec[] = [
  {
    box: { l: 60, t: 24.3, r: 447, b: 292.3 }, xDomain: [-3.91, 0.44], yDomain: [-2, 2], yTicks: yTicksHalf,
    yFmt: fmtHalf, serif: true, tickFont: 12, labelFont: 12.5, titleFont: 13.5, xTickMargin: 4.2, yTickMargin: 3,
    title: '(A)', titleY: 12.7, xlabelY: 320, ylabelX: 13, legend: <><i>λ</i>=1</>, legendRight: 433, legendY: 41.7,
    red: redA, nulls: [nullA], fixedY: 1, nullY: -1,
    arrows: [...topLeftAB, ...topRightA, ...midLeftAB, ...midRightA, ...botLeftAB, ...botRightA],
    plain: [...plainLeftAB, ...plainRightA], nullText: [{ x: -3.416, y: -1 }],
  },
  {
    box: { l: 515, t: 24.6, r: 909.7, b: 296.8 }, xDomain: [-3.904, 0.43], yDomain: [-2, 2], yTicks: yTicksHalf,
    yFmt: fmtHalf, serif: false, tickFont: 10, labelFont: 10, titleFont: 13, xTickMargin: 4.1, yTickMargin: 4,
    title: '(B)', titleY: 13, xlabelY: 322.7, ylabelX: 473, legend: <><i>λ</i>=1</>, legendRight: 896.5, legendY: 42,
    red: redB, nulls: [nullB], fixedY: 1, nullY: -1,
    arrows: [...topLeftAB, ...topRightB, ...midLeftAB, ...midRightB, ...botLeftAB, ...botRightB],
    plain: [...plainLeftAB, ...plainRightB], nullText: [{ x: -3.413, y: -1 }],
  },
  {
    box: { l: 49, t: 363.6, r: 446.7, b: 631.7 }, xDomain: [-3.9, 0.43], yDomain: [-3, 2], yTicks: yTicksUnit,
    yFmt: fmtUnit, serif: true, tickFont: 12, labelFont: 12.5, titleFont: 13.5, xTickMargin: 4.8, yTickMargin: 4,
    title: '(C)', titleY: 352.3, xlabelY: 660, ylabelX: 13.3, legend: <><i>λ</i>=1,<i>κ</i>=−1</>, legendRight: 433.3,
    legendY: 381.7, red: redC, nulls: [nullC], fixedY: 1, nullY: -2,
    arrows: [...topC, ...midC, ...botC], plain: plainC, nullText: [{ x: -3.4, y: -2 }],
  },
  {
    box: { l: 514.7, t: 364.6, r: 909.7, b: 637 }, xDomain: [-3.895, 1.28], yDomain: [-2, 2], yTicks: yTicksHalf,
    yFmt: fmtHalf, serif: false, tickFont: 10, labelFont: 10, titleFont: 13, xTickMargin: 4.1, yTickMargin: 4.3,
    title: '(D)', titleY: 353.3, xlabelY: 662.3, ylabelX: 473, legend: <><i>λ</i>=0,<i>κ</i>=0</>, legendRight: 898,
    legendY: 381.7, red: redD, nulls: [nullD, nullFlatD], fixedY: 1, nullY: -1,
    arrows: [...topD, ...midD, ...botD], plain: plainD,
    nullText: [{ x: -3.305, y: -1 }, { x: 0.329, y: -1.0, angle: -40, anchor: 'middle' }],
  },
];

export default function App() {
  return (
    <div style={{ position: 'absolute', left: 0, top: 0, width: 917, height: 675, background: '#fff', overflow: 'hidden' }}>
      {panels.map((s, i) => (
        <Panel key={i} s={s} />
      ))}
    </div>
  );
}
